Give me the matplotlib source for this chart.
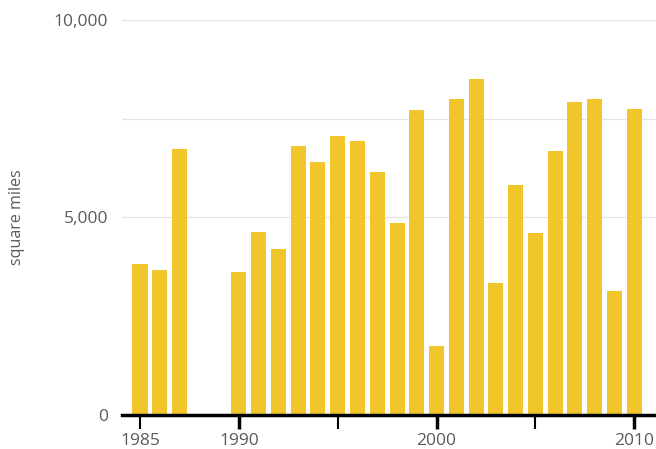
import matplotlib as mpl

mpl.use("Agg")
import matplotlib.pyplot as plt
from matplotlib.ticker import FixedLocator, FuncFormatter

# burned area per year (square miles), 1988-1989 have no bar
years = [1985, 1986, 1987, 1990, 1991, 1992, 1993, 1994, 1995, 1996, 1997,
         1998, 1999, 2000, 2001, 2002, 2003, 2004, 2005, 2006, 2007, 2008,
         2009, 2010]
area = [3810, 3660, 6720, 3610, 4620, 4190, 6820, 6410, 7050, 6940, 6140,
        4850, 7730, 1740, 8000, 8510, 3330, 5830, 4600, 6690, 7930, 8000,
        3130, 7750]
major_years = [1990, 2000, 2010]
minor_years = [1985, 1995, 2005]
minor_labels = ["1985", "", ""]
y_ticks = [0, 5000, 10000]
y_grid_extra = [7500]

bar_color = "#F1C62A"
text_color = "#5a5a5a"

plt.rcParams["font.family"] = ["Open Sans", "DejaVu Sans"]

fig = plt.figure(figsize=(6.56, 4.49), dpi=100)
ax = fig.add_axes([0.186, 0.0757, 0.814, 0.88])

ax.bar(years, area, width=0.76, color=bar_color, zorder=2)

ax.set_xlim(1984.09, 2011.1)
ax.set_ylim(0, 10000)

# y axis: labels only, grid at 5000/7500/10000
ax.yaxis.set_major_locator(FixedLocator(y_ticks))
ax.yaxis.set_minor_locator(FixedLocator(y_grid_extra))
ax.yaxis.set_major_formatter(FuncFormatter(lambda v, p: f"{int(v):,}"))
ax.tick_params(axis="y", which="both", length=0, pad=10,
               labelsize=12.5, labelcolor=text_color)
ax.grid(axis="y", which="both", color="#e3e3e3", linewidth=0.9, zorder=0)
ax.yaxis.get_gridlines()[0].set_visible(False)

# x axis
ax.xaxis.set_major_locator(FixedLocator(major_years))
ax.xaxis.set_minor_locator(FixedLocator(minor_years))
ax.xaxis.set_minor_formatter(FuncFormatter(lambda v, p: minor_labels[p] if p is not None and p < len(minor_labels) else ""))
ax.tick_params(axis="x", which="major", length=10, width=2.5, color="black",
               labelsize=12.5, labelcolor=text_color, pad=3)
ax.tick_params(axis="x", which="minor", length=10, width=1.5, color="black",
               labelsize=12.5, labelcolor=text_color, pad=3)

for side in ["top", "right", "left"]:
    ax.spines[side].set_visible(False)
ax.spines["bottom"].set_linewidth(2.5)
ax.spines["bottom"].set_color("black")
ax.spines["bottom"].set_zorder(3)

fig.text(0.026, 0.517, "square miles", rotation=90, ha="center", va="center",
         fontsize=11.5, color=text_color)

fig.savefig("out.png", dpi=100)
